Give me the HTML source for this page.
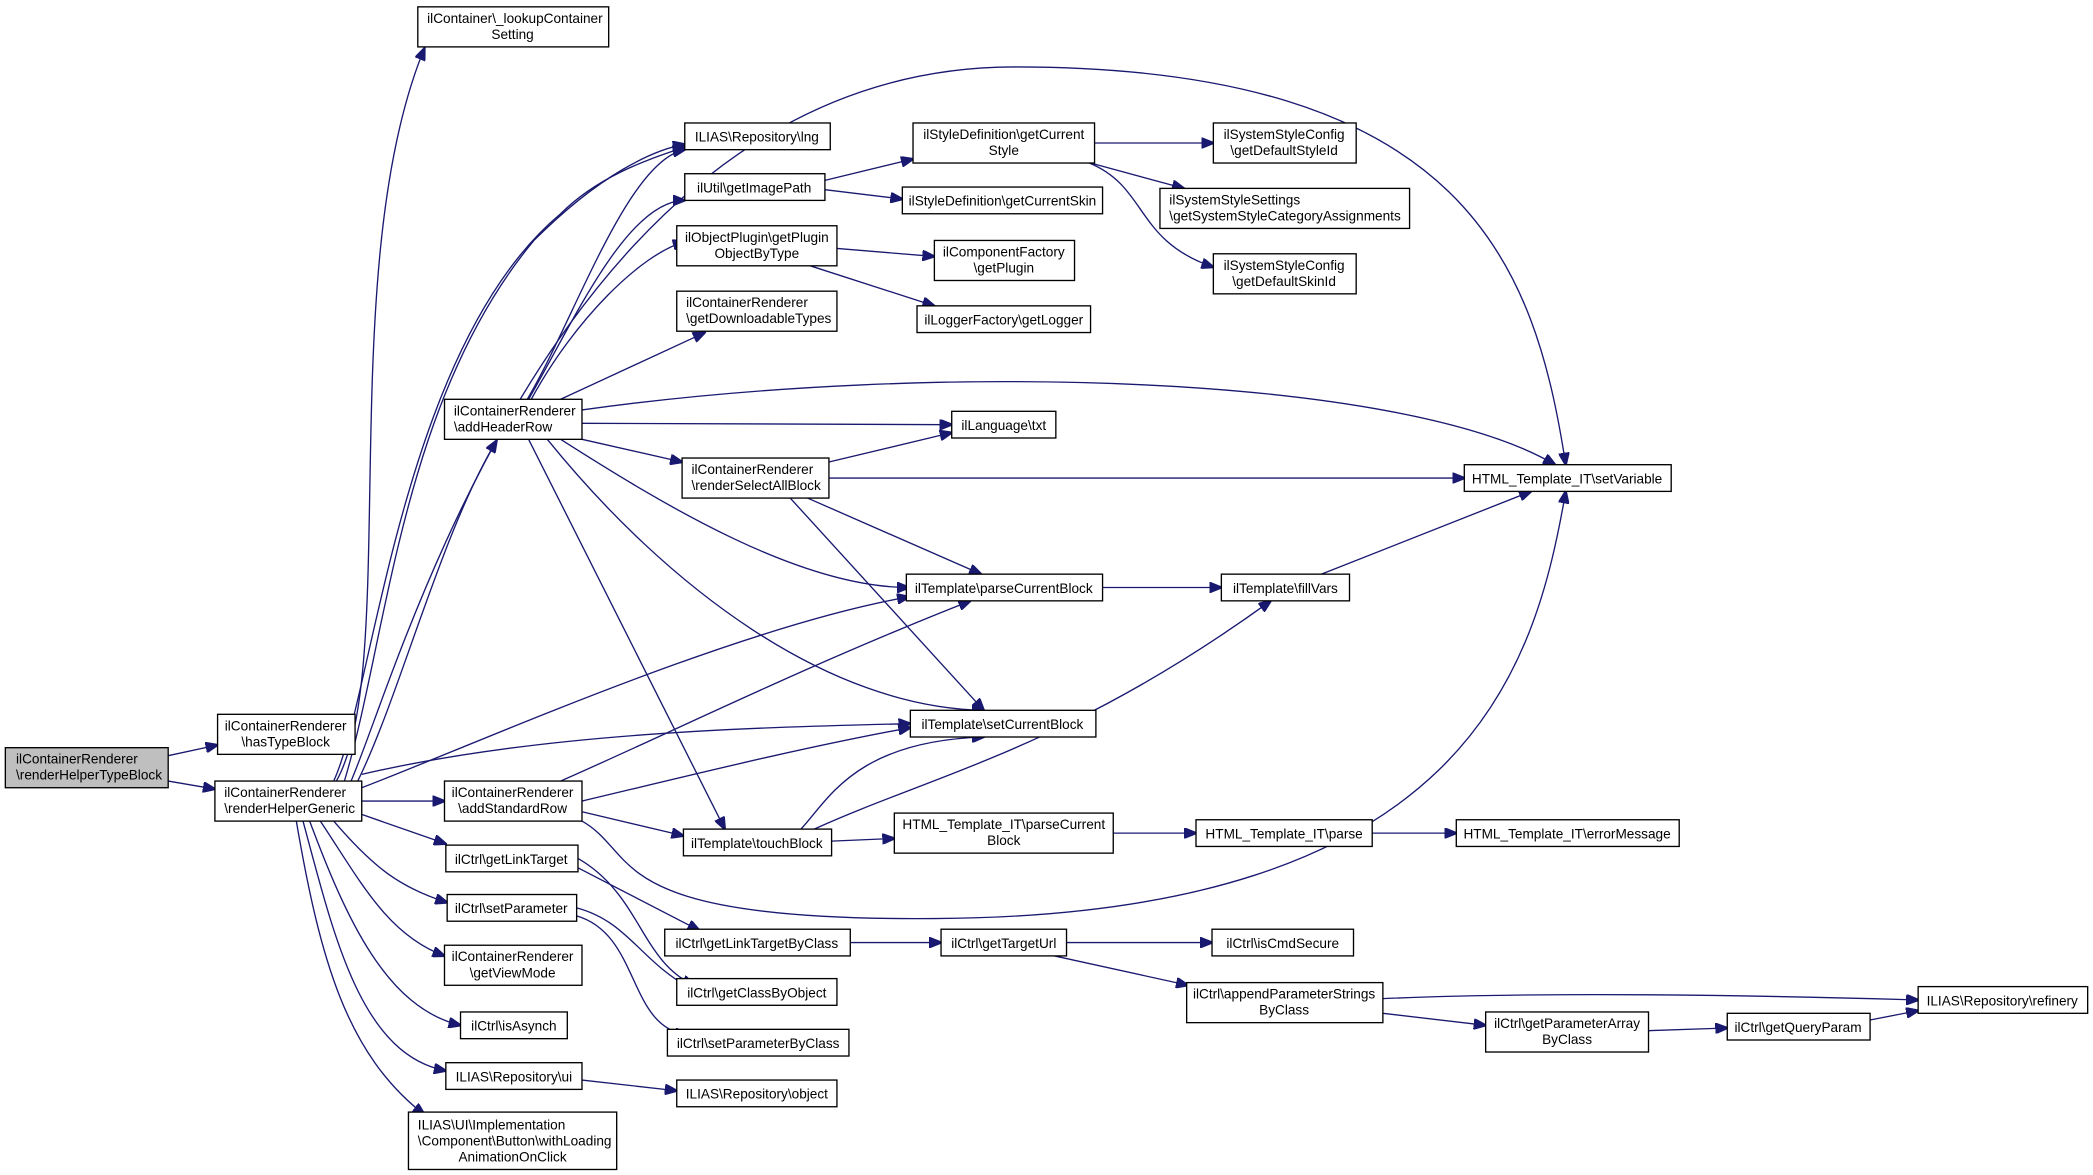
<!DOCTYPE html>
<html><head><meta charset="utf-8"><style>
html,body{margin:0;padding:0;background:#fff;}
svg{display:block;}
text{font-family:"Liberation Sans",sans-serif;font-size:10.2px;fill:#000;}
rect{fill:#fff;stroke:#000;stroke-width:1;}
path{fill:none;stroke:#191970;stroke-width:1;}
</style></head><body>
<svg width="2093" height="1175" viewBox="0 0 1568 880" xmlns="http://www.w3.org/2000/svg">
<defs><marker id="a" markerWidth="10" markerHeight="8" refX="9" refY="4" orient="auto" markerUnits="userSpaceOnUse"><polygon points="0,0 10,4 0,8" fill="#191970" stroke="#191970"/></marker></defs>
<g marker-end="url(#a)">
<path d="M126,566 L163,558"/>
<path d="M126,585 L161,591"/>
<path d="M271,600 L333,600"/>
<path d="M268,585 C300,520 330,400 372,330"/>
<path d="M252,585 C300,500 250,200 318,36"/>
<path d="M250,585 C280,520 300,260 420,160 C450,130 490,118 513,110"/>
<path d="M258,585 C290,480 300,300 400,180 C450,130 490,112 513,108"/>
<path d="M263,585 C300,500 420,50 760,50 C1100,50 1150,200 1173,348"/>
<path d="M271,590 C350,560 550,470 681,447"/>
<path d="M271,580 C400,550 550,545 682,542"/>
<path d="M271,610 L334,632"/>
<path d="M250,615 C280,650 300,665 335,676"/>
<path d="M240,615 C270,660 290,700 333,716"/>
<path d="M232,615 C260,690 290,755 345,768"/>
<path d="M227,615 C250,700 270,790 334,802"/>
<path d="M222,615 C240,720 260,790 318,835"/>
<path d="M436,600 C520,580 600,560 682,545"/>
<path d="M420,585 C500,550 600,500 727,450"/>
<path d="M436,608 L512,626"/>
<path d="M436,615 C480,640 450,690 700,688 C1100,686 1150,500 1173,368"/>
<path d="M433,643 C480,670 480,720 520,738"/>
<path d="M433,650 L524,697"/>
<path d="M432,680 C470,690 480,720 517,740"/>
<path d="M432,686 C480,700 470,770 515,775"/>
<path d="M436,809 L507,817"/>
<path d="M396,299 C430,240 470,150 513,150"/>
<path d="M398,299 C430,240 480,190 513,181"/>
<path d="M420,299 L528,249"/>
<path d="M395,299 C430,240 470,120 513,112"/>
<path d="M436,307 C700,270 1050,280 1165,348"/>
<path d="M436,317 L713,318"/>
<path d="M436,329 L511,346"/>
<path d="M420,329 C500,380 600,440 681,440"/>
<path d="M410,329 C500,440 620,530 737,532"/>
<path d="M396,329 L543,621"/>
<path d="M621,346 L713,324"/>
<path d="M621,358 L1097,358"/>
<path d="M605,373 L735,430"/>
<path d="M592,373 L737,532"/>
<path d="M826,440 L915,440"/>
<path d="M990,430 L1147,368"/>
<path d="M618,135 L684,119"/>
<path d="M618,142 L676,149"/>
<path d="M627,186 L700,192"/>
<path d="M607,199 L700,229"/>
<path d="M820,107 L909,107"/>
<path d="M817,122 L887,141"/>
<path d="M816,122 C860,140 850,180 909,200"/>
<path d="M600,621 C620,600 640,555 737,552"/>
<path d="M610,621 C700,580 800,560 952,450"/>
<path d="M623,630 L670,628"/>
<path d="M834,624 L896,624"/>
<path d="M1028,624 L1091,624"/>
<path d="M637,706 L705,706"/>
<path d="M799,706 L908,706"/>
<path d="M790,716 L890,738"/>
<path d="M1036,748 C1150,743 1300,745 1437,749"/>
<path d="M1036,759 L1113,768"/>
<path d="M1235,772 L1294,770"/>
<path d="M1401,764 L1437,757"/>
</g>
<g>
<rect x="4" y="560" width="122" height="30" style="fill:#bfbfbf"/><text x="12" y="572">ilContainerRenderer</text><text x="12" y="584">\renderHelperTypeBlock</text>
<rect x="163" y="535" width="103" height="30"/><text x="214" y="547" text-anchor="middle">ilContainerRenderer</text><text x="214" y="559" text-anchor="middle">\hasTypeBlock</text>
<rect x="161" y="585" width="110" height="30"/><text x="168" y="597">ilContainerRenderer</text><text x="168" y="609">\renderHelperGeneric</text>
<rect x="313" y="5" width="143" height="30"/><text x="320" y="17">ilContainer\_lookupContainer</text><text x="384" y="29" text-anchor="middle">Setting</text>
<rect x="513" y="92" width="109" height="20"/><text x="567" y="106" text-anchor="middle">ILIAS\Repository\lng</text>
<rect x="513" y="130" width="105" height="20"/><text x="565" y="144" text-anchor="middle">ilUtil\getImagePath</text>
<rect x="507" y="169" width="120" height="30"/><text x="567" y="181" text-anchor="middle">ilObjectPlugin\getPlugin</text><text x="567" y="193" text-anchor="middle">ObjectByType</text>
<rect x="507" y="218" width="120" height="30"/><text x="514" y="230">ilContainerRenderer</text><text x="514" y="242">\getDownloadableTypes</text>
<rect x="333" y="299" width="103" height="30"/><text x="340" y="311">ilContainerRenderer</text><text x="340" y="323">\addHeaderRow</text>
<rect x="511" y="343" width="110" height="30"/><text x="518" y="355">ilContainerRenderer</text><text x="518" y="367">\renderSelectAllBlock</text>
<rect x="684" y="92" width="136" height="30"/><text x="752" y="104" text-anchor="middle">ilStyleDefinition\getCurrent</text><text x="752" y="116" text-anchor="middle">Style</text>
<rect x="676" y="140" width="150" height="20"/><text x="751" y="154" text-anchor="middle">ilStyleDefinition\getCurrentSkin</text>
<rect x="700" y="180" width="105" height="30"/><text x="752" y="192" text-anchor="middle">ilComponentFactory</text><text x="752" y="204" text-anchor="middle">\getPlugin</text>
<rect x="687" y="229" width="130" height="20"/><text x="752" y="243" text-anchor="middle">ilLoggerFactory\getLogger</text>
<rect x="713" y="308" width="78" height="20"/><text x="752" y="322" text-anchor="middle">ilLanguage\txt</text>
<rect x="679" y="430" width="147" height="20"/><text x="752" y="444" text-anchor="middle">ilTemplate\parseCurrentBlock</text>
<rect x="682" y="532" width="139" height="20"/><text x="751" y="546" text-anchor="middle">ilTemplate\setCurrentBlock</text>
<rect x="512" y="621" width="111" height="20"/><text x="567" y="635" text-anchor="middle">ilTemplate\touchBlock</text>
<rect x="670" y="609" width="164" height="30"/><text x="752" y="621" text-anchor="middle">HTML_Template_IT\parseCurrent</text><text x="752" y="633" text-anchor="middle">Block</text>
<rect x="909" y="92" width="107" height="30"/><text x="962" y="104" text-anchor="middle">ilSystemStyleConfig</text><text x="962" y="116" text-anchor="middle">\getDefaultStyleId</text>
<rect x="869" y="141" width="187" height="30"/><text x="876" y="153">ilSystemStyleSettings</text><text x="876" y="165">\getSystemStyleCategoryAssignments</text>
<rect x="909" y="190" width="107" height="30"/><text x="962" y="202" text-anchor="middle">ilSystemStyleConfig</text><text x="962" y="214" text-anchor="middle">\getDefaultSkinId</text>
<rect x="915" y="430" width="96" height="20"/><text x="963" y="444" text-anchor="middle">ilTemplate\fillVars</text>
<rect x="1097" y="348" width="155" height="20"/><text x="1174" y="362" text-anchor="middle">HTML_Template_IT\setVariable</text>
<rect x="896" y="614" width="132" height="20"/><text x="962" y="628" text-anchor="middle">HTML_Template_IT\parse</text>
<rect x="1091" y="614" width="167" height="20"/><text x="1174" y="628" text-anchor="middle">HTML_Template_IT\errorMessage</text>
<rect x="333" y="585" width="103" height="30"/><text x="384" y="597" text-anchor="middle">ilContainerRenderer</text><text x="384" y="609" text-anchor="middle">\addStandardRow</text>
<rect x="334" y="633" width="99" height="20"/><text x="383" y="647" text-anchor="middle">ilCtrl\getLinkTarget</text>
<rect x="335" y="670" width="97" height="20"/><text x="383" y="684" text-anchor="middle">ilCtrl\setParameter</text>
<rect x="333" y="708" width="103" height="30"/><text x="384" y="720" text-anchor="middle">ilContainerRenderer</text><text x="384" y="732" text-anchor="middle">\getViewMode</text>
<rect x="345" y="758" width="80" height="20"/><text x="385" y="772" text-anchor="middle">ilCtrl\isAsynch</text>
<rect x="334" y="796" width="102" height="20"/><text x="385" y="810" text-anchor="middle">ILIAS\Repository\ui</text>
<rect x="306" y="833" width="156" height="43"/><text x="313" y="846">ILIAS\UI\Implementation</text><text x="313" y="858">\Component\Button\withLoading</text><text x="384" y="870" text-anchor="middle">AnimationOnClick</text>
<rect x="498" y="696" width="139" height="20"/><text x="567" y="710" text-anchor="middle">ilCtrl\getLinkTargetByClass</text>
<rect x="507" y="733" width="120" height="20"/><text x="567" y="747" text-anchor="middle">ilCtrl\getClassByObject</text>
<rect x="500" y="771" width="136" height="20"/><text x="568" y="785" text-anchor="middle">ilCtrl\setParameterByClass</text>
<rect x="507" y="809" width="120" height="20"/><text x="567" y="823" text-anchor="middle">ILIAS\Repository\object</text>
<rect x="705" y="696" width="94" height="20"/><text x="752" y="710" text-anchor="middle">ilCtrl\getTargetUrl</text>
<rect x="908" y="696" width="106" height="20"/><text x="961" y="710" text-anchor="middle">ilCtrl\isCmdSecure</text>
<rect x="889" y="736" width="147" height="30"/><text x="962" y="748" text-anchor="middle">ilCtrl\appendParameterStrings</text><text x="962" y="760" text-anchor="middle">ByClass</text>
<rect x="1113" y="758" width="122" height="30"/><text x="1174" y="770" text-anchor="middle">ilCtrl\getParameterArray</text><text x="1174" y="782" text-anchor="middle">ByClass</text>
<rect x="1294" y="759" width="107" height="20"/><text x="1347" y="773" text-anchor="middle">ilCtrl\getQueryParam</text>
<rect x="1437" y="739" width="127" height="20"/><text x="1500" y="753" text-anchor="middle">ILIAS\Repository\refinery</text>
</g>
</svg>
</body></html>
